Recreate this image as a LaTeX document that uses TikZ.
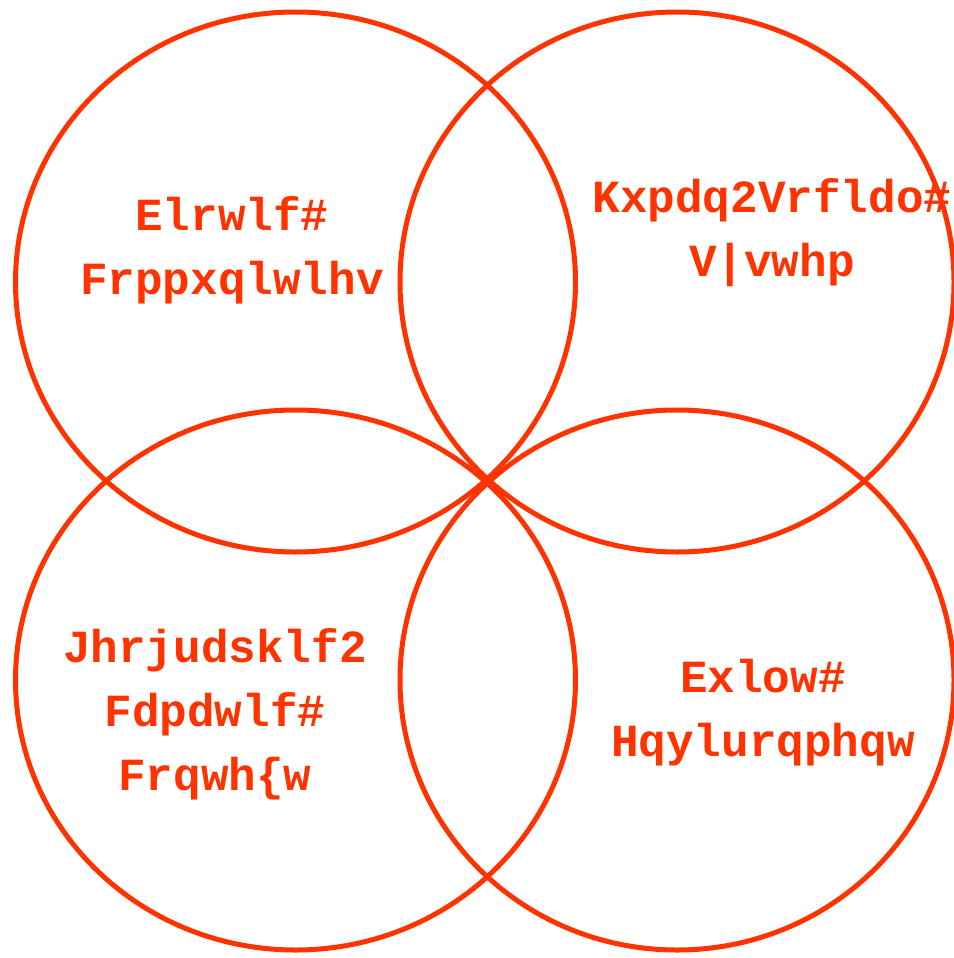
\documentclass[tikz,border=0pt]{standalone}
\usepackage{fontspec}
\usepackage{tikz}
\usetikzlibrary{shapes.geometric,positioning}
\usepackage{xcolor}
\newfontfamily\ringfont{Liberation Mono}[BoldFont={Liberation Mono Bold}]
\definecolor{ringred}{HTML}{FF3300}

\begin{document}
\begin{tikzpicture}[x=1pt, y=-1pt,
  ring/.style={ellipse, draw=ringred, line width=5pt, inner sep=0pt, minimum width=#1},
  ringlabel/.style={align=center, text=ringred, inner sep=0pt, font=\ringfont\bfseries\fontsize{46}{64}\selectfont}
]
  \useasboundingbox (0,0) rectangle (953,958);

  \node[ring=560pt, minimum height=540pt] (biotic) at (295.5,282) {};
  \node[ring=554pt, minimum height=540pt] (human) at (677,282) {};
  \node[ring=560pt, minimum height=540pt] (geo) at (295.5,680) {};
  \node[ring=554pt, minimum height=540pt] (built) at (677,680) {};

  \node[ringlabel] (bioticlabel) at (232,250) {Elrwlf\#\\Frppxqlwlhv};
  \node[ringlabel] (humanlabel) at (772,233) {Kxpdq2Vrfldo\#\\V|vwhp};
  \node[ringlabel] (geolabel) at (215,714) {Jhrjudsklf2\\Fdpdwlf\#\\Frqwh\{w};
  \node[ringlabel] (builtlabel) at (763,713) {Exlow\#\\Hqylurqphqw};
\end{tikzpicture}
\end{document}
